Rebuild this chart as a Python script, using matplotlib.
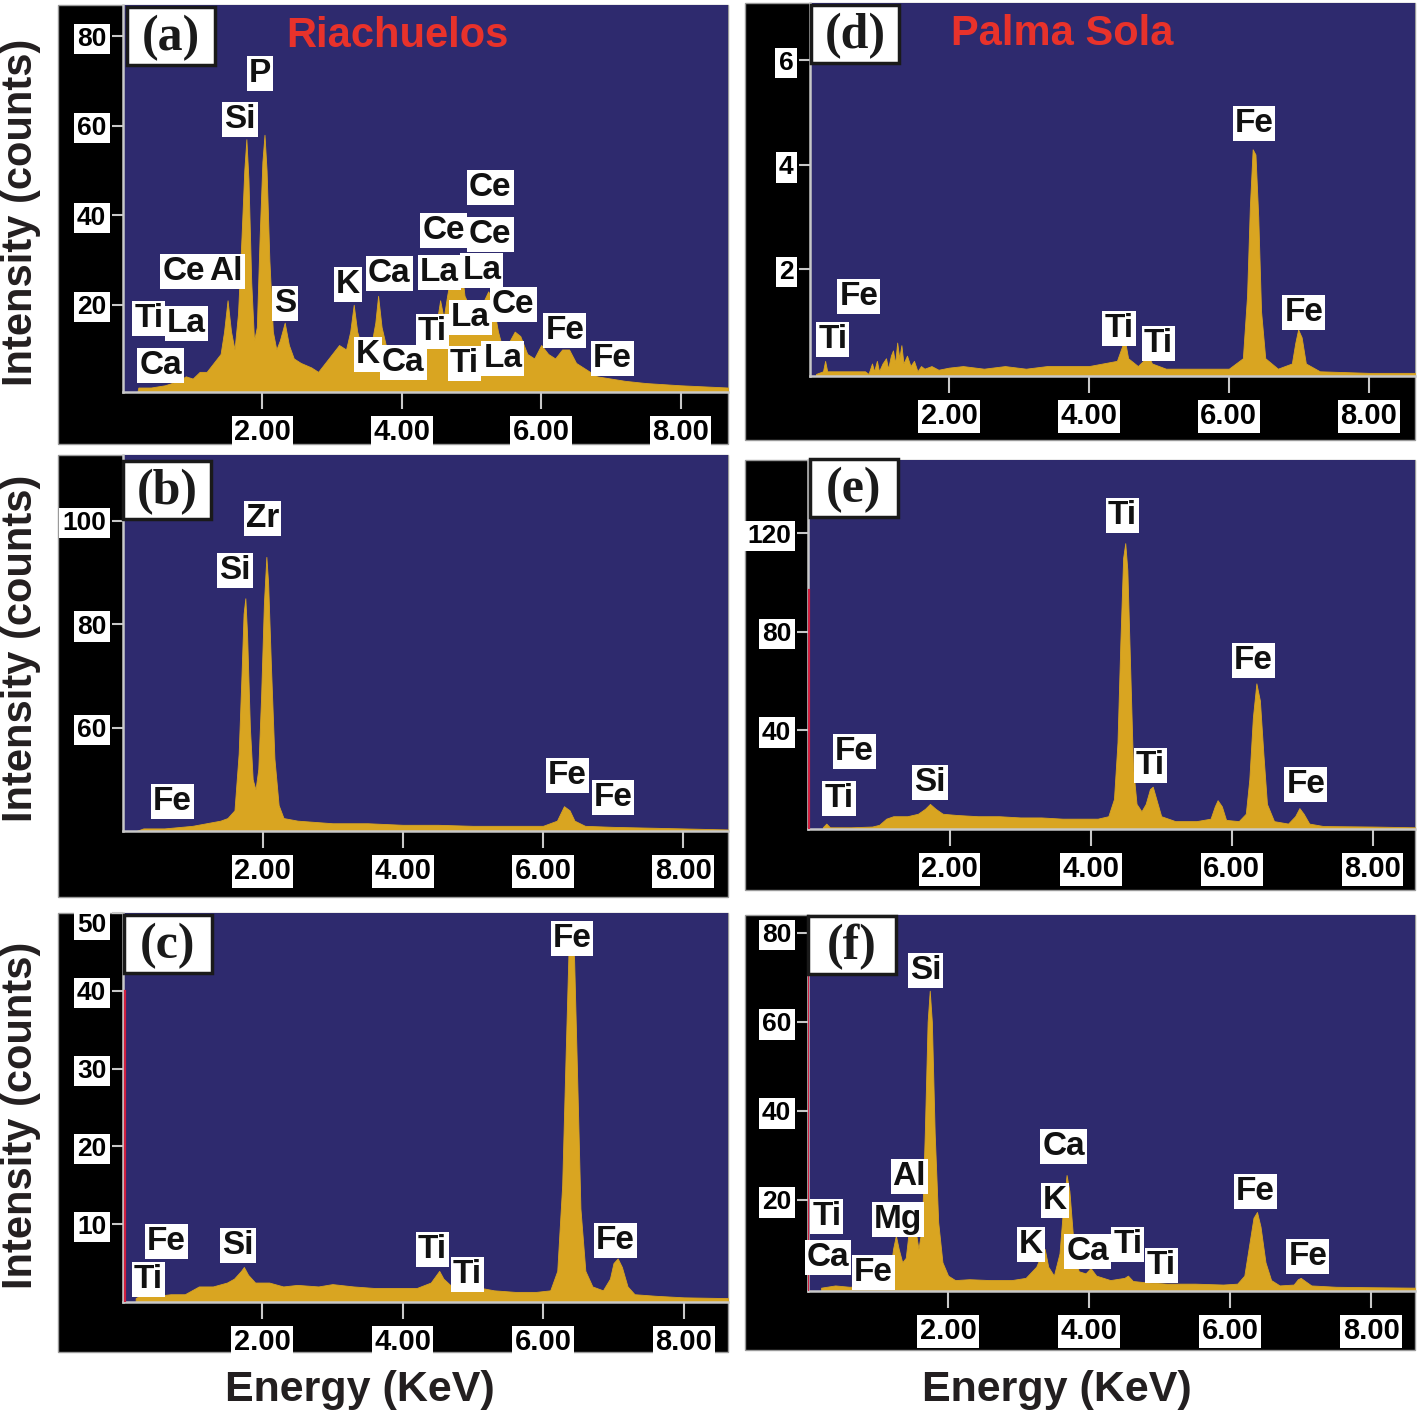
import matplotlib
matplotlib.use("Agg")
import matplotlib.pyplot as plt
from matplotlib.patches import Rectangle

# ---------------- data ----------------
# (a) Riachuelos
a_E = [0.20, 0.22, 0.40, 0.60, 0.80, 0.90, 1.00, 1.10, 1.20, 1.30, 1.40, 1.45, 1.50, 1.55, 1.60, 1.65,
       1.70, 1.74, 1.77, 1.80, 1.84, 1.88, 1.92, 1.96, 2.00, 2.03, 2.06, 2.10, 2.15, 2.20, 2.25, 2.32,
       2.38, 2.45, 2.55, 2.70, 2.80, 2.90, 3.00, 3.10, 3.20, 3.26, 3.31, 3.36, 3.45, 3.55, 3.62, 3.66,
       3.71, 3.80, 3.90, 4.00, 4.10, 4.20, 4.30, 4.40, 4.50, 4.55, 4.60, 4.65, 4.72, 4.78, 4.84, 4.90,
       4.96, 5.02, 5.10, 5.18, 5.24, 5.30, 5.38, 5.45, 5.55, 5.62, 5.70, 5.80, 5.90, 6.00, 6.10, 6.20,
       6.30, 6.40, 6.50, 6.60, 6.80, 7.00, 7.20, 7.50, 8.00, 8.68]
a_C = [0, 1.5, 1.5, 2, 3, 4, 3.5, 5, 5, 7, 9, 14, 21, 14, 10, 18,
       35, 50, 57, 48, 25, 12, 15, 35, 52, 58, 50, 30, 14, 10, 12, 16,
       11, 8, 7, 6, 5, 7, 9, 11, 10, 14, 20, 14, 9, 10, 16, 22,
       15, 9, 8, 7, 8, 6, 9, 12, 16, 21, 17, 22, 28, 31, 30, 22,
       20, 20, 18, 21, 23, 21, 14, 10, 12, 14, 13, 9, 8, 11, 9, 8,
       10, 10, 7, 6, 4, 3.5, 3, 2.5, 2, 1.5]
a_lab = ["P", "Si", "Ce", "Al", "Ti", "La", "Ca", "S", "K", "Ca", "K", "Ca", "Ce", "Ce", "Ce",
         "La", "La", "Ce", "Ti", "La", "Ti", "La", "Fe", "Fe"]
a_lx = [1.97, 1.68, 0.87, 1.48, 0.37, 0.91, 0.54, 2.32, 3.23, 3.82, 3.51, 4.02, 4.60, 5.27, 5.27,
        4.54, 5.15, 5.60, 4.44, 4.98, 4.90, 5.45, 6.34, 7.02]
a_ly = [71.6, 61.3, 27.4, 27.4, 16.9, 15.8, 6.4, 20.2, 24.5, 26.9, 8.8, 7.0, 36.5, 46.1, 35.8,
        27.2, 27.6, 20.0, 14.0, 17.1, 6.8, 7.9, 14.2, 7.9]

# (b)
b_E = [0.20, 0.30, 0.60, 1.00, 1.20, 1.40, 1.50, 1.60, 1.66, 1.70, 1.73, 1.755, 1.78, 1.82, 1.86,
       1.90, 1.94, 1.98, 2.02, 2.055, 2.08, 2.12, 2.17, 2.23, 2.30, 2.50, 3.00, 3.50, 4.00, 4.50,
       5.00, 5.50, 6.00, 6.20, 6.30, 6.38, 6.45, 6.60, 7.00, 8.00, 8.64]
b_C = [40, 40.5, 40.5, 41, 41.5, 42, 42.5, 44, 55, 70, 82, 85, 78, 60, 50,
       48, 52, 66, 84, 93, 88, 72, 54, 45, 42.5, 42, 41.5, 41.5, 41.2, 41.2,
       41, 41, 41, 42, 44.8, 44, 42, 41, 40.8, 40.5, 40.3]
b_lab = ["Zr", "Si", "Fe", "Fe", "Fe"]
b_lx = [2.00, 1.61, 0.71, 6.35, 7.00]
b_ly = [100.5, 90.4, 45.8, 50.8, 46.4]

# (c)
c_E = [0.20, 0.30, 0.50, 0.70, 0.90, 1.00, 1.10, 1.30, 1.50, 1.60, 1.70, 1.74, 1.80, 1.90, 2.10,
       2.30, 2.50, 2.80, 3.00, 3.30, 3.60, 3.90, 4.20, 4.40, 4.48, 4.52, 4.58, 4.70, 4.93, 5.00,
       5.30, 5.60, 5.90, 6.10, 6.20, 6.27, 6.32, 6.36, 6.40, 6.44, 6.48, 6.53, 6.60, 6.70, 6.85,
       6.95, 7.00, 7.06, 7.12, 7.20, 7.30, 7.60, 8.00, 8.63]
c_C = [0.5, 1, 0.8, 1, 1, 1.5, 2, 2, 2.5, 3, 4, 4.5, 3.5, 2.5, 2.5,
       2, 2.2, 2, 2.3, 2, 1.8, 1.8, 1.8, 2.5, 3.5, 4, 3, 2, 2.5, 2,
       1.5, 1.3, 1.3, 1.5, 4, 15, 32, 45, 49, 44, 30, 12, 4, 2, 1.5,
       3, 5, 5.6, 4.5, 2, 1, 0.8, 0.6, 0.5]
c_lab = ["Fe", "Fe", "Ti", "Ti", "Si", "Fe", "Ti"]
c_lx = [6.41, 7.03, 4.42, 4.92, 1.66, 0.64, 0.38]
c_ly = [46.7, 7.9, 6.7, 3.5, 7.2, 7.8, 2.9]

# (d) Palma Sola
d_E = [0.10, 0.20, 0.23, 0.26, 0.50, 0.80, 0.85, 0.90, 0.93, 0.97, 1.00, 1.05, 1.10, 1.13, 1.17,
       1.20, 1.23, 1.26, 1.29, 1.32, 1.35, 1.40, 1.45, 1.50, 1.55, 1.60, 1.65, 1.75, 1.85, 2.00,
       2.20, 2.50, 2.80, 3.10, 3.40, 3.70, 4.00, 4.20, 4.40, 4.48, 4.52, 4.56, 4.70, 4.85, 4.90,
       5.10, 5.50, 6.00, 6.20, 6.26, 6.30, 6.34, 6.38, 6.42, 6.46, 6.52, 6.70, 6.90, 6.95, 6.99,
       7.04, 7.10, 7.30, 8.00, 8.66]
d_C = [0, 0.05, 0.25, 0.05, 0.05, 0.05, 0.0, 0.2, 0.05, 0.25, 0.05, 0.2, 0.3, 0.1, 0.35,
       0.45, 0.2, 0.6, 0.3, 0.55, 0.2, 0.35, 0.15, 0.25, 0.05, 0.15, 0.1, 0.15, 0.08, 0.12,
       0.15, 0.1, 0.15, 0.1, 0.15, 0.15, 0.15, 0.2, 0.25, 0.55, 0.6, 0.3, 0.15, 0.35, 0.2,
       0.1, 0.1, 0.1, 0.3, 1.5, 3.2, 4.3, 4.2, 3.0, 1.2, 0.3, 0.1, 0.2, 0.6, 0.85,
       0.7, 0.2, 0.05, 0.02, 0.02]
d_lab = ["Fe", "Fe", "Ti", "Ti", "Fe", "Ti"]
d_lx = [6.36, 7.07, 4.43, 4.99, 0.71, 0.34]
d_ly = [4.8, 1.17, 0.86, 0.59, 1.49, 0.65]

# (e)
e_E = [0.20, 0.25, 0.30, 0.60, 0.90, 1.00, 1.10, 1.20, 1.40, 1.55, 1.65, 1.72, 1.80, 1.90, 2.10,
       2.40, 2.70, 3.00, 3.30, 3.60, 3.90, 4.10, 4.25, 4.33, 4.38, 4.42, 4.46, 4.49, 4.52, 4.56,
       4.60, 4.65, 4.72, 4.78, 4.84, 4.88, 4.93, 5.00, 5.20, 5.50, 5.70, 5.76, 5.80, 5.86, 5.92,
       6.10, 6.20, 6.25, 6.30, 6.35, 6.40, 6.45, 6.50, 6.60, 6.80, 6.90, 6.96, 7.02, 7.10, 7.30,
       8.00, 8.60]
e_C = [0.5, 2, 0.5, 0.5, 0.8, 1.5, 4, 5, 5, 6, 8, 10, 8, 6, 5.5,
       5, 5, 4.5, 4.5, 4, 4, 4, 5, 12, 35, 75, 110, 116, 105, 65,
       25, 10, 7, 10, 16, 17, 12, 5, 3, 3, 4, 9, 11.5, 9, 3.5,
       3, 6, 20, 45, 59, 52, 30, 10, 3, 2, 5, 8.3, 6, 2, 1,
       0.8, 0.5]
e_lab = ["Ti", "Fe", "Ti", "Fe", "Si", "Fe", "Ti"]
e_lx = [4.45, 6.31, 4.85, 7.05, 1.72, 0.65, 0.43]
e_ly = [127.4, 68.1, 25.8, 17.7, 18.9, 31.5, 12.0]

# (f)
f_E = [0.20, 0.40, 0.60, 0.80, 1.00, 1.10, 1.18, 1.22, 1.26, 1.30, 1.35, 1.40, 1.45, 1.49, 1.53,
       1.58, 1.63, 1.67, 1.71, 1.74, 1.77, 1.81, 1.86, 1.92, 2.00, 2.10, 2.30, 2.60, 2.90, 3.10,
       3.25, 3.33, 3.37, 3.42, 3.50, 3.58, 3.63, 3.68, 3.72, 3.77, 3.85, 3.95, 4.02, 4.10, 4.30,
       4.50, 4.55, 4.62, 4.80, 5.10, 5.50, 5.90, 6.10, 6.20, 6.27, 6.33, 6.38, 6.43, 6.50, 6.58,
       6.70, 6.90, 6.96, 7.00, 7.06, 7.15, 7.50, 8.00, 8.62]
f_C = [0.3, 0.8, 0.5, 0.6, 0.8, 1.5, 4, 9, 12, 9, 6, 7, 14, 19, 14,
       9, 14, 35, 60, 67, 60, 35, 15, 6, 3, 2, 2.2, 2, 2, 2.5,
       5, 8, 9, 5, 3, 8, 18, 25.6, 22, 12, 4, 3.5, 4.7, 3, 2,
       2.5, 3, 1.8, 1.5, 1.2, 1.2, 1.0, 1.2, 3, 10, 16, 17.3, 14, 6, 2,
       0.8, 1, 2.2, 2.5, 1.8, 0.8, 0.5, 0.4, 0.3]
f_lab = ["Si", "Ca", "K", "K", "Ca", "Ti", "Ti", "Fe", "Fe", "Al", "Mg", "Ti", "Ca", "Fe"]
f_lx = [1.68, 3.64, 3.51, 3.17, 3.98, 4.55, 5.02, 6.36, 7.10, 1.45, 1.29, 0.28, 0.30, 0.94]
f_ly = [71.5, 31.9, 19.8, 10.1, 8.5, 10.1, 5.2, 22.0, 7.4, 25.2, 15.7, 16.2, 7.0, 3.8]

xticks = [2, 4, 6, 8]
xticklabels = ["2.00", "4.00", "6.00", "8.00"]

# ---------------- style ----------------
W, H = 1418, 1415
BLUE = "#2e2a6e"
GOLD = "#d9a521"
RED = "#e8322b"
GREY = "#c8c8c8"
NARROW = ["Liberation Sans Narrow", "Liberation Sans", "DejaVu Sans"]
SANS = ["Liberation Sans", "DejaVu Sans"]
SERIF = ["Liberation Serif", "DejaVu Serif"]

fig = plt.figure(figsize=(W / 100, H / 100), dpi=100)
fig.patch.set_facecolor("white")


def fig_rect(l, t, r, b, **kw):
    rect = Rectangle((l / W, 1 - b / H), (r - l) / W, (b - t) / H,
                     transform=fig.transFigure, **kw)
    fig.add_artist(rect)
    return rect


panels = [
    ("(a)", a_E, a_C, a_lab, a_lx, a_ly, (123, 728, 5, 392), (58, 5, 728, 444), (0, 8.68), (0.5, 87.0),
     [20, 40, 60, 80], None, (171, 36)),
    ("(b)", b_E, b_C, b_lab, b_lx, b_ly, (123, 728, 455, 831), (58, 455, 728, 897), (0.01, 8.64), (40, 112.7),
     [60, 80, 100], None, (167, 490)),
    ("(c)", c_E, c_C, c_lab, c_lx, c_ly, (123, 728, 913, 1302), (58, 913, 728, 1352), (0.02, 8.63), (0, 50),
     [10, 20, 30, 40, 50], (0.05, 40), (168, 944)),
    ("(d)", d_E, d_C, d_lab, d_lx, d_ly, (810, 1415, 3, 376), (745, 3, 1415, 440), (0.014, 8.66), (-0.04, 7.1),
     [2, 4, 6], None, (855, 34)),
    ("(e)", e_E, e_C, e_lab, e_lx, e_ly, (808, 1415, 460, 829), (745, 460, 1415, 890), (-0.01, 8.6), (-0.2, 149.8),
     [40, 80, 120], (0.0, 97), (854, 488)),
    ("(f)", f_E, f_C, f_lab, f_lx, f_ly, (808, 1415, 915, 1291), (745, 915, 1415, 1350), (0.014, 8.62), (-0.45, 84),
     [20, 40, 60, 80], (0.02, 78), (852, 945)),
]

for tag, E, C, labs, lx, ly, (l, r, t, b), band, xlim, ylim, yt, redline, tagc in panels:
    fig_rect(*band, facecolor="black", edgecolor="#9a9a9a", linewidth=1.0, zorder=-2)
    ax = fig.add_axes([l / W, 1 - b / H, (r - l) / W, (b - t) / H])
    ax.set_facecolor(BLUE)
    ax.fill_between(E, ylim[0] - 5, C, color=GOLD, linewidth=0.6, edgecolor=GOLD, zorder=2)
    if redline is not None:
        ax.plot([redline[0], redline[0]], [ylim[0], redline[1]], color="#d02040", lw=1.6, zorder=3)
    ax.set_xlim(*xlim)
    ax.set_ylim(*ylim)
    ax.set_xticks(xticks)
    ax.set_xticklabels(xticklabels)
    ax.set_yticks(yt)
    ax.set_yticklabels([str(v) for v in yt])
    for s in ("top", "right"):
        ax.spines[s].set_visible(False)
    for s in ("left", "bottom"):
        ax.spines[s].set_color(GREY)
        ax.spines[s].set_linewidth(1.8)
    ax.tick_params(axis="x", direction="out", length=12, width=1.5, color=GREY, pad=7)
    ax.tick_params(axis="y", direction="out", length=8, width=1.5, color=GREY, pad=4)
    for lbl in ax.get_xticklabels():
        lbl.set_fontfamily(NARROW)
        lbl.set_fontsize(21)
        lbl.set_fontweight("bold")
        lbl.set_color("black")
        lbl.set_bbox(dict(boxstyle="square,pad=0.08", facecolor="white", edgecolor="none"))
    ylbls = ax.get_yticklabels()
    for lbl in ylbls:
        lbl.set_fontfamily(NARROW)
        lbl.set_fontsize(19)
        lbl.set_fontweight("bold")
        lbl.set_color("black")
        lbl.set_bbox(dict(boxstyle="square,pad=0.12", facecolor="white", edgecolor="none"))
    if tag == "(c)":
        ylbls[-1].set_verticalalignment("top")
    for s, x, y in zip(labs, lx, ly):
        ax.text(x, y, s, ha="center", va="center", fontsize=24, fontweight="bold",
                family=SANS, color="#111111", zorder=5, clip_on=False,
                bbox=dict(boxstyle="square,pad=0.06", facecolor="white", edgecolor="none"))
    cx, cy = tagc
    fig_rect(cx - 44, cy - 29, cx + 44, cy + 29, facecolor="white", edgecolor="#1a1a1a",
             linewidth=2.5, zorder=6)
    fig.text(cx / W, 1 - (cy + 2) / H, tag, ha="center", va="center", fontsize=36,
             fontweight="bold", family=SERIF, color="#1a1a1a", zorder=7)

fig.text(397 / W, 1 - 36 / H, "Riachuelos", ha="center", va="center", fontsize=30,
         fontweight="bold", family=SANS, color=RED, zorder=8)
fig.text(1062 / W, 1 - 34 / H, "Palma Sola", ha="center", va="center", fontsize=30,
         fontweight="bold", family=SANS, color=RED, zorder=8)

for yc in (212, 648, 1115):
    fig.text(21 / W, 1 - yc / H, "Intensity (counts)", rotation=90, ha="center", va="center",
             fontsize=30, fontweight="bold", family=SANS, color="#231f20")
for xc in (360, 1057):
    fig.text(xc / W, 1 - 1390 / H, "Energy (KeV)", ha="center", va="center",
             fontsize=31, fontweight="bold", family=SANS, color="#231f20")

fig.savefig("out.png", dpi=100, facecolor="white")
